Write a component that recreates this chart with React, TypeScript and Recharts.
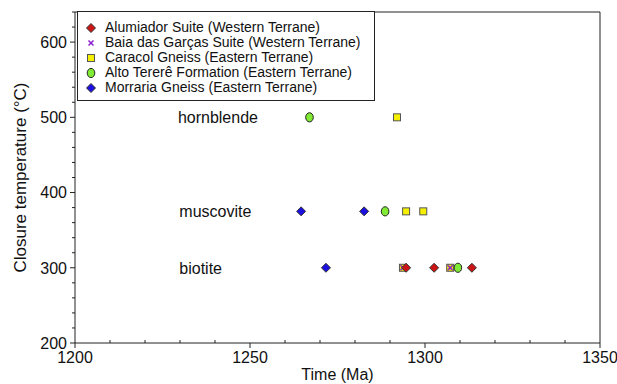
import React from 'react';
import {
  ScatterChart,
  Scatter,
  XAxis,
  YAxis,
  Legend,
  ReferenceLine
} from 'recharts';

// closure temperatures (°C) vs time (Ma)
const alumiador = [
  { x: 1294.6, y: 300 },
  { x: 1302.6, y: 300 },
  { x: 1313.4, y: 300 }
];
const baiaGarcas = [
  { x: 1293.7, y: 300 },
  { x: 1307.2, y: 300 }
];
const caracol = [
  { x: 1292, y: 500 },
  { x: 1294.6, y: 375 },
  { x: 1299.5, y: 375 },
  { x: 1293.7, y: 300 },
  { x: 1307.2, y: 300 }
];
const altoTerere = [
  { x: 1267, y: 500 },
  { x: 1288.6, y: 375 },
  { x: 1309.4, y: 300 }
];
const morraria = [
  { x: 1264.6, y: 375 },
  { x: 1282.6, y: 375 },
  { x: 1271.7, y: 300 }
];

const minerals = [
  { name: 'hornblende', x: 1229.4, y: 500 },
  { name: 'muscovite', x: 1229.8, y: 375 },
  { name: 'biotite', x: 1229.8, y: 300 }
];

const xTicks = [1200, 1210, 1220, 1230, 1240, 1250, 1260, 1270, 1280, 1290, 1300, 1310, 1320, 1330, 1340, 1350];
const yTicks = [200, 220, 240, 260, 280, 300, 320, 340, 360, 380, 400, 420, 440, 460, 480, 500, 520, 540, 560, 580, 600, 620, 640];

const FONT = '"Liberation Sans", Arial, Helvetica, sans-serif';
const AXIS = '#222';

const Diamond = ({ cx, cy, fill }: any) => (
  <polygon
    points={`${cx},${cy - 4.5} ${cx + 4.5},${cy} ${cx},${cy + 4.5} ${cx - 4.5},${cy}`}
    fill={fill}
    stroke="#333"
    strokeWidth={1}
  />
);
const Square = ({ cx, cy }: any) => (
  <rect x={cx - 3.5} y={cy - 3.5} width={7} height={7} fill="#f4f000" stroke="#555" strokeWidth={1} />
);
const Ellipse = ({ cx, cy }: any) => (
  <ellipse cx={cx} cy={cy} rx={3.8} ry={4.6} fill="#80ea34" stroke="#222" strokeWidth={1} />
);
const Cross = ({ cx, cy }: any) => (
  <g stroke="#8a1fd0" strokeWidth={1.5}>
    <line x1={cx - 2.5} y1={cy - 2.5} x2={cx + 2.5} y2={cy + 2.5} />
    <line x1={cx - 2.5} y1={cy + 2.5} x2={cx + 2.5} y2={cy - 2.5} />
  </g>
);
const MineralText = ({ cx, cy, payload }: any) => (
  <text x={cx} y={cy} dy="0.36em" fontFamily={FONT} fontSize={16} fill="#111">
    {payload.name}
  </text>
);

const XTick = ({ x, y, payload }: any) => {
  const major = payload.value % 50 === 0;
  return (
    <g>
      <line x1={x} y1={y} x2={x} y2={major ? y + 5 : y - 3} stroke={AXIS} />
      {major && (
        <text x={x} y={y + 20} textAnchor="middle" fontFamily={FONT} fontSize={16} fill="#111">
          {payload.value}
        </text>
      )}
    </g>
  );
};

const YTick = ({ x, y, payload }: any) => {
  const major = payload.value % 100 === 0;
  return (
    <g>
      <line x1={x} y1={y} x2={major ? x - 5 : x - 3} y2={y} stroke={AXIS} />
      {major && (
        <text x={x - 8} y={y} dy="0.36em" textAnchor="end" fontFamily={FONT} fontSize={16} fill="#111">
          {payload.value}
        </text>
      )}
    </g>
  );
};

const YTitle = ({ viewBox }: any) => {
  const cx = 20;
  const cy = viewBox.y + viewBox.height / 2;
  return (
    <text
      x={cx}
      y={cy}
      dy="0.36em"
      textAnchor="middle"
      transform={`rotate(-90 ${cx} ${cy})`}
      fontFamily={FONT}
      fontSize={17}
      fill="#111"
    >
      Closure temperature (°C)
    </text>
  );
};

const legendItems = [
  { label: 'Alumiador Suite (Western Terrane)', mark: <Diamond cx={6} cy={6} fill="#cc1414" /> },
  { label: 'Baia das Garças Suite (Western Terrane)', mark: <Cross cx={6} cy={6} /> },
  { label: 'Caracol Gneiss (Eastern Terrane)', mark: <Square cx={6} cy={6} /> },
  { label: 'Alto Tererê Formation (Eastern Terrane)', mark: <Ellipse cx={6} cy={6} /> },
  { label: 'Morraria Gneiss (Eastern Terrane)', mark: <Diamond cx={6} cy={6} fill="#1c10e0" /> }
];

const LegendBox = () => (
  <div
    style={{
      border: '1px solid #222',
      background: '#fff',
      padding: '8px 10px 5px 7px',
      fontFamily: FONT,
      fontSize: 14,
      lineHeight: '15px',
      color: '#111',
      width: 279,
      boxSizing: 'content-box'
    }}
  >
    {legendItems.map((it) => (
      <div key={it.label} style={{ display: 'flex', alignItems: 'center', height: 15, whiteSpace: 'nowrap' }}>
        <svg width={12} height={12} style={{ marginRight: 8, flex: 'none' }}>
          {it.mark}
        </svg>
        <span>{it.label}</span>
      </div>
    ))}
  </div>
);

export default function App() {
  return (
    <div style={{ position: 'absolute', left: 0, top: 0, background: '#fff' }}>
      <ScatterChart width={617} height={384} margin={{ top: 12, right: 17, bottom: 40, left: 74 }}>
        <XAxis
          type="number"
          dataKey="x"
          domain={[1200, 1350]}
          ticks={xTicks}
          interval={0}
          height={1}
          tickSize={0}
          tickMargin={0}
          tickLine={false}
          tick={<XTick />}
          axisLine={{ stroke: AXIS }}
          allowDataOverflow
          label={{ value: 'Time (Ma)', position: 'bottom', offset: 25, fontFamily: FONT, fontSize: 16, fill: '#111' }}
        />
        <YAxis
          type="number"
          dataKey="y"
          domain={[200, 640]}
          ticks={yTicks}
          interval={0}
          width={1}
          tickSize={0}
          tickMargin={0}
          tickLine={false}
          tick={<YTick />}
          axisLine={{ stroke: AXIS }}
          allowDataOverflow
          label={<YTitle />}
        />
        <ReferenceLine y={640} stroke={AXIS} />
        <ReferenceLine x={1350} stroke={AXIS} />
        <Scatter data={minerals} shape={<MineralText />} isAnimationActive={false} legendType="none" />
        <Scatter data={caracol} shape={<Square />} isAnimationActive={false} />
        <Scatter data={baiaGarcas} shape={<Cross />} isAnimationActive={false} />
        <Scatter data={altoTerere} shape={<Ellipse />} isAnimationActive={false} />
        <Scatter data={alumiador} shape={<Diamond fill="#cc1414" />} isAnimationActive={false} />
        <Scatter data={morraria} shape={<Diamond fill="#1c10e0" />} isAnimationActive={false} />
        <Legend
          layout="vertical"
          align="center"
          verticalAlign="middle"
          content={<LegendBox />}
          wrapperStyle={{ left: 77, top: 11, width: 'auto' }}
        />
      </ScatterChart>
    </div>
  );
}
